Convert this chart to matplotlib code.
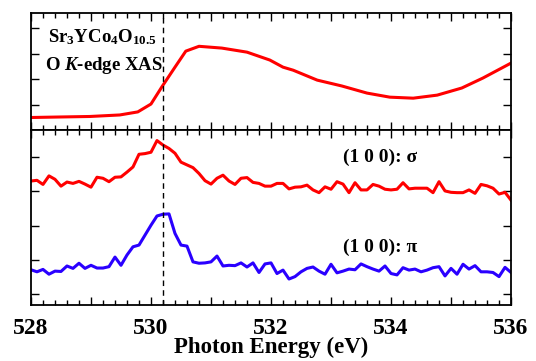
import matplotlib
matplotlib.use("Agg")
import matplotlib.pyplot as plt
import numpy as np
from matplotlib.ticker import MultipleLocator, NullFormatter

# data (arb. units)
xasE = [528.0, 528.48, 528.98, 529.48, 529.78, 530.0, 530.18, 530.4, 530.58, 530.8,
        531.18, 531.6, 531.98, 532.2, 532.37, 532.77, 533.18, 533.6, 533.98, 534.37,
        534.77, 535.18, 535.53, 536.0]
xasI = [0.49, 0.51, 0.53, 0.59, 0.71, 1.02, 1.69, 2.47, 3.10, 3.29,
        3.22, 3.06, 2.75, 2.47, 2.35, 1.96, 1.73, 1.45, 1.29, 1.25,
        1.37, 1.65, 2.04, 2.63]

ldE = [528.0 + 0.1 * k for k in range(81)]
sigma = [3.30, 3.32, 3.20, 3.45, 3.35, 3.15, 3.27, 3.23, 3.29, 3.21,
         3.12, 3.41, 3.38, 3.28, 3.41, 3.42, 3.56, 3.71, 4.08, 4.10,
         4.14, 4.48, 4.35, 4.25, 4.11, 3.85, 3.77, 3.69, 3.52, 3.31,
         3.21, 3.38, 3.47, 3.30, 3.20, 3.38, 3.40, 3.26, 3.23, 3.15,
         3.15,
         3.23, 3.23, 3.07, 3.12, 3.13, 3.18, 3.04, 2.96, 3.13, 3.06,
         3.28, 3.21, 2.96, 3.25, 3.04, 3.04, 3.20, 3.15, 3.06, 3.04,
         3.06, 3.25, 3.07, 3.09, 3.09, 3.09, 2.96, 3.28, 3.01, 2.97,
         2.96, 2.96, 3.04, 2.94, 3.20, 3.16, 3.09, 2.92, 2.97, 2.74]
pi = [0.71, 0.65, 0.72, 0.58, 0.67, 0.66, 0.82, 0.75, 0.90, 0.75,
      0.84, 0.76, 0.76, 0.80, 1.08, 0.84, 1.14, 1.38, 1.43, 1.72,
      2.01, 2.28, 2.33, 2.34, 1.77, 1.43, 1.40, 0.94, 0.90, 0.91,
      0.94, 1.11, 0.82, 0.84, 0.83, 0.91, 0.79, 0.91, 0.63, 0.88,
      0.91,
      0.60, 0.70, 0.44, 0.51, 0.65, 0.75, 0.79, 0.67, 0.58, 0.87,
      0.62, 0.67, 0.73, 0.71, 0.88, 0.80, 0.73, 0.67, 0.82, 0.60,
      0.56, 0.77, 0.70, 0.73, 0.65, 0.70, 0.77, 0.80, 0.53, 0.75,
      0.58, 0.87, 0.73, 0.83, 0.65, 0.65, 0.63, 0.51, 0.78, 0.63]

edgeE = 530.2

plt.rcParams['font.family'] = 'Liberation Serif'
plt.rcParams['font.weight'] = 'bold'
plt.rcParams['axes.labelweight'] = 'bold'
plt.rcParams['mathtext.fontset'] = 'custom'
plt.rcParams['mathtext.rm'] = 'Liberation Serif:bold'
plt.rcParams['mathtext.it'] = 'Liberation Serif:bold:italic'
plt.rcParams['mathtext.bf'] = 'Liberation Serif:bold'

fig = plt.figure(figsize=(5.36, 3.61), dpi=100)
axTop = fig.add_axes([0.0578, 0.640, 0.8956, 0.324])
axBot = fig.add_axes([0.0578, 0.155, 0.8956, 0.485])

axTop.plot(xasE, xasI, color='#ff0000', lw=2.2)
axBot.plot(ldE, sigma, color='#ff0000', lw=2.2)
axBot.plot(ldE, pi, color='#2a00ff', lw=2.2)

for ax in (axTop, axBot):
    ax.axvline(edgeE, color='black', lw=1.0, ls=(0, (4, 3)))
    ax.set_xlim(528, 536)
    ax.xaxis.set_major_locator(MultipleLocator(1))
    ax.xaxis.set_minor_locator(MultipleLocator(0.2))
    ax.yaxis.set_major_locator(MultipleLocator(1))
    ax.yaxis.set_major_formatter(NullFormatter())
    ax.tick_params(which='both', direction='in', top=True, right=True, width=1.0)
    ax.tick_params(which='major', length=6)
    ax.tick_params(which='minor', length=3.5)
    for s in ax.spines.values():
        s.set_linewidth(1.3)

axTop.set_ylim(0, 4.6)
axTop.set_yticks([1, 2, 3, 4])
axTop.xaxis.set_major_formatter(NullFormatter())
axBot.set_ylim(-0.32, 4.79)
axBot.set_yticks([0, 1, 2, 3, 4])

axBot.set_xticks([528, 529, 530, 531, 532, 533, 534, 535, 536])
axBot.set_xticklabels(['528', '', '530', '', '532', '', '534', '', '536'], fontsize=17)
axBot.set_xlabel('Photon Energy (eV)', fontsize=16.5, labelpad=-1)
axBot.tick_params(axis='x', which='major', pad=9)

axTop.text(0.035, 0.79, 'Sr$_3$YCo$_4$O$_{10.5}$', transform=axTop.transAxes,
           fontsize=13.5, va='center', ha='left')
axTop.text(0.030, 0.55, 'O $K$-edge XAS', transform=axTop.transAxes,
           fontsize=13.5, va='center', ha='left')

axBot.text(533.82, 4.0, '(1 0 0): σ', fontsize=14, ha='center', va='center')
axBot.text(533.82, 1.37, '(1 0 0): π', fontsize=14, ha='center', va='center')

fig.savefig('out.png', dpi=100)
